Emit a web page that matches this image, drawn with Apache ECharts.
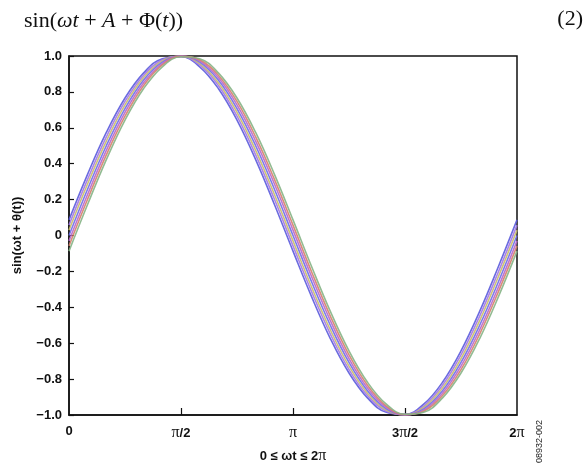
<!DOCTYPE html>
<html>
<head>
<meta charset="utf-8">
<script src="https://cdn.jsdelivr.net/npm/echarts@6/dist/echarts.min.js"></script>
<style>
  html, body { margin: 0; padding: 0; background: #fff; }
  #main { width: 588px; height: 475px; }
</style>
</head>
<body>
<div id="main"></div>
<script>
// wt in degrees, 0..360 every 15
let angles = [0, 15, 30, 45, 60, 75, 90, 105, 120, 135, 150, 165, 180,
    195, 210, 225, 240, 255, 270, 285, 300, 315, 330, 345, 360];

// x tick labels (degrees -> pi labels)
let xTicks = { 0: '0', 90: '{p|π}/2', 180: '{p|π}', 270: '3{p|π}/2', 360: '2{p|π}' };

// traces, leading (left) to lagging (right)
let traceA = [0.087, 0.342, 0.574, 0.766, 0.906, 0.985, 0.996, 0.940, 0.819, 0.643, 0.423, 0.174, -0.087,
    -0.342, -0.574, -0.766, -0.906, -0.985, -0.996, -0.940, -0.819, -0.643, -0.423, -0.174, 0.087];
let traceB = [0.058, 0.314, 0.549, 0.747, 0.893, 0.979, 0.998, 0.950, 0.836, 0.665, 0.449, 0.203, -0.058,
    -0.314, -0.549, -0.747, -0.893, -0.979, -0.998, -0.950, -0.836, -0.665, -0.449, -0.203, 0.058];
let traceC = [0.030, 0.288, 0.526, 0.728, 0.880, 0.973, 1.000, 0.958, 0.851, 0.686, 0.474, 0.230, -0.030,
    -0.288, -0.526, -0.728, -0.880, -0.973, -1.000, -0.958, -0.851, -0.686, -0.474, -0.230, 0.030];
let traceD = [0, 0.259, 0.500, 0.707, 0.866, 0.966, 1.000, 0.966, 0.866, 0.707, 0.500, 0.259, 0,
    -0.259, -0.500, -0.707, -0.866, -0.966, -1.000, -0.966, -0.866, -0.707, -0.500, -0.259, 0];
let traceE = [-0.030, 0.230, 0.474, 0.686, 0.851, 0.958, 1.000, 0.973, 0.880, 0.728, 0.526, 0.288, 0.030,
    -0.230, -0.474, -0.686, -0.851, -0.958, -1.000, -0.973, -0.880, -0.728, -0.526, -0.288, -0.030];
let traceF = [-0.058, 0.203, 0.449, 0.665, 0.836, 0.950, 0.998, 0.979, 0.893, 0.747, 0.549, 0.314, 0.058,
    -0.203, -0.449, -0.665, -0.836, -0.950, -0.998, -0.979, -0.893, -0.747, -0.549, -0.314, -0.058];
let traceG = [-0.087, 0.174, 0.423, 0.643, 0.819, 0.940, 0.996, 0.985, 0.906, 0.766, 0.574, 0.342, 0.087,
    -0.174, -0.423, -0.643, -0.819, -0.940, -0.996, -0.985, -0.906, -0.766, -0.574, -0.342, -0.087];

let traces = [traceA, traceB, traceC, traceD, traceE, traceF, traceG];
let colors = ['#5b5bdc', '#a278e6', '#c8bd6a', '#6e6ee6', '#b866cc', '#d4806c', '#86b486'];

let chart = echarts.init(document.getElementById('main'));

let series = traces.map(function (t, i) {
    return {
        type: 'line',
        smooth: 0.4,
        symbol: 'none',
        animation: false,
        lineStyle: { width: 1.6, color: colors[i], opacity: 0.9 },
        data: angles.map(function (a, j) { return [a, t[j]]; })
    };
});

let boldFont = '"Liberation Sans", Arial, sans-serif';
let serifFont = '"Liberation Serif", "DejaVu Serif", serif';
let piStyle = { fontFamily: serifFont, fontWeight: 'normal', fontSize: 16, color: '#111' };

chart.setOption({
    animation: false,
    title: {
        left: 19,
        top: 5,
        text: '{n|sin(}{i|ωt}{n| + }{i|A}{n| + Φ(}{i|t}{n|))}',
        textStyle: {
            fontWeight: 'normal',
            rich: {
                n: { fontFamily: serifFont, fontSize: 22, fontWeight: 'normal', color: '#111' },
                i: { fontFamily: serifFont, fontSize: 22, fontWeight: 'normal', fontStyle: 'italic', color: '#111' }
            }
        }
    },
    graphic: [
        {
            type: 'text', right: 5, top: 8,
            style: { text: '(2)', font: '22px "Liberation Serif", serif', fill: '#111' }
        },
        {
            type: 'text', x: 535, y: 463, rotation: Math.PI / 2,
            style: { text: '08932-002', font: '9px "Liberation Sans", Arial, sans-serif', fill: '#222' }
        }
    ],
    grid: {
        left: 69, right: 71, top: 56, bottom: 60,
        show: true, borderColor: '#111', borderWidth: 1.5, backgroundColor: 'transparent'
    },
    xAxis: {
        type: 'value',
        min: 0, max: 360, interval: 90,
        name: '0 ≤ ωt ≤ 2{p|π}',
        nameLocation: 'middle',
        nameGap: 33,
        nameTextStyle: {
            fontFamily: boldFont, fontWeight: 'bold', fontSize: 13, color: '#111',
            rich: { p: piStyle }
        },
        axisLine: { onZero: false, lineStyle: { color: '#111', width: 1.5 } },
        axisTick: {
            inside: true, length: 7, lineStyle: { color: '#111', width: 1.2 },
            customValues: [90, 180, 270]
        },
        splitLine: { show: false },
        axisLabel: {
            margin: 10,
            fontFamily: boldFont, fontWeight: 'bold', fontSize: 13, color: '#111',
            formatter: function (v) { return xTicks[v]; },
            rich: { p: piStyle }
        }
    },
    yAxis: {
        type: 'value',
        min: -1, max: 1, interval: 0.2,
        name: 'sin(ωt + θ(t))',
        nameLocation: 'middle',
        nameGap: 45,
        nameTextStyle: { fontFamily: boldFont, fontWeight: 'bold', fontSize: 13, color: '#111' },
        axisLine: { show: true, onZero: false, lineStyle: { color: '#111', width: 1.5 } },
        axisTick: { show: true, inside: true, length: 5, lineStyle: { color: '#111', width: 1.2 } },
        splitLine: { show: false },
        axisLabel: {
            margin: 7,
            fontFamily: boldFont, fontWeight: 'bold', fontSize: 13, color: '#111',
            formatter: function (v) {
                if (Math.abs(v) < 1e-9) return '0';
                return v.toFixed(1).replace('-', '−');
            }
        }
    },
    series: series
});
</script>
</body>
</html>
